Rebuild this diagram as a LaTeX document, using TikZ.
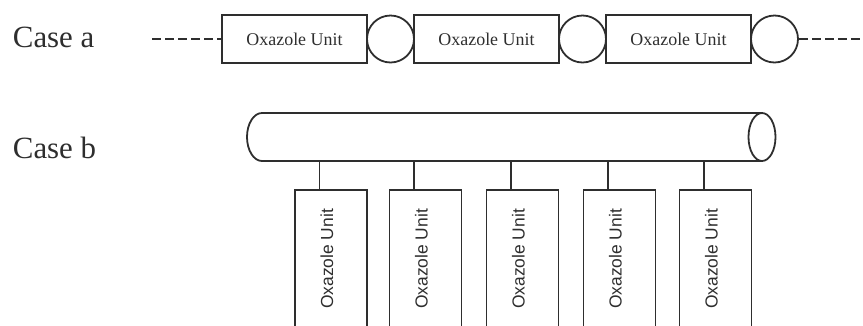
\documentclass[tikz,border=0pt]{standalone}
\usepackage{fontspec}
\setmainfont{Liberation Serif}
\newfontfamily\unitsans{Liberation Sans}
\definecolor{inkc}{HTML}{2E2E2E}
\begin{document}
\begin{tikzpicture}[x=1bp,y=1bp,line width=1.8bp,
  casetxt/.style={anchor=base west,inner sep=0,text=inkc,font=\fontsize{31}{36}\selectfont},
  unitbox/.style={draw=inkc,minimum width=145bp,minimum height=48bp,inner sep=0,text=inkc,font=\fontsize{18}{20}\selectfont},
  linkring/.style={circle,draw=inkc,minimum size=47bp,inner sep=0},
  chainline/.style={draw=inkc,dash pattern=on 9bp off 4bp},
  vbox/.style={draw=inkc,minimum width=72bp,minimum height=170bp,anchor=north,inner sep=0},
  vtext/.style={rotate=90,inner sep=0,text=inkc,font=\unitsans\fontsize{17.5}{20}\selectfont},
  stemline/.style={draw=inkc},
  tube/.style={draw=inkc}]
\useasboundingbox (0,0) rectangle (863,-325);
\clip (0,0) rectangle (863,-325);
% Case a
\node[casetxt] (casea) at (12,-47) {Case a};
\node[unitbox] (a1) at (294.5,-39) {Oxazole Unit};
\node[linkring] (c1) at (390.5,-39) {};
\node[unitbox] (a2) at (486.5,-39) {Oxazole Unit};
\node[linkring] (c2) at (582.5,-39) {};
\node[unitbox] (a3) at (678.5,-39) {Oxazole Unit};
\node[linkring] (c3) at (774.5,-39) {};
\coordinate (lend) at (152,-39);
\coordinate (rend) at (863,-39);
\draw[chainline] (lend) -- (a1.west);
\draw[chainline] (c3.east) -- (rend);
% Case b
\node[casetxt] (caseb) at (12,-158) {Case b};
\node[inner sep=0,minimum width=528.5bp,minimum height=48bp] (cyl) at (511.25,-137) {};
\draw[tube] (762,-113) -- (262,-113) arc[start angle=90,end angle=270,x radius=15,y radius=24] -- (762,-161);
\draw[tube] (762,-137) ellipse[x radius=13.5,y radius=24];
\foreach \i/\x in {1/331,2/425.5,3/522.5,4/619.5,5/715.5}{
  \node[vbox] (b\i) at (\x,-189) {};
  \node[vtext] (t\i) at ([xshift=-4bp,yshift=-70bp]b\i.north) {Oxazole Unit};
  \draw[stemline] ([xshift=-11.5bp]b\i.north) -- ([xshift=-11.5bp]b\i.north |- cyl.south);
}
\end{tikzpicture}
\end{document}
